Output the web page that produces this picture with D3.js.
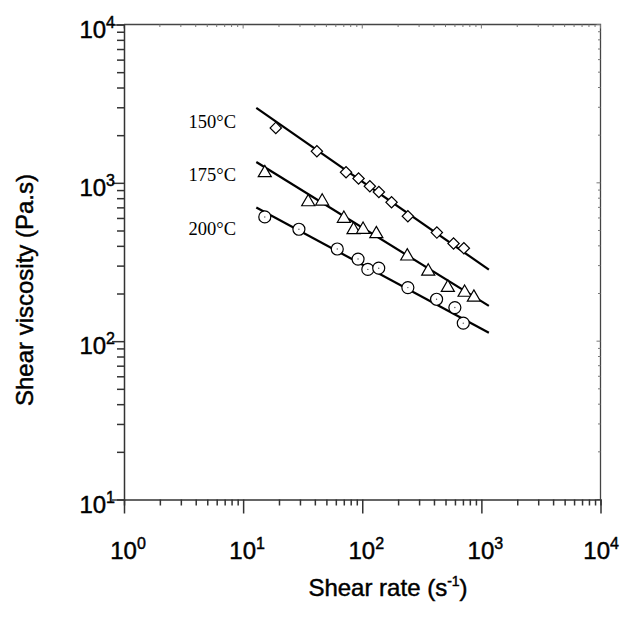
<!DOCTYPE html>
<html>
<head>
<meta charset="utf-8">
<script src="https://cdn.jsdelivr.net/npm/d3@7"></script>
<style>
  body { margin: 0; background: #fff; }
  svg { display: block; }
  .sans { font-family: 'Liberation Sans', Arial, sans-serif; stroke: #000; stroke-width: 0.45px; }
</style>
</head>
<body>
<div class="chart"></div>
<script>
// values
const temps = ['150°C', '175°C', '200°C']

const rate150 = [18.8, 41.6, 73.1, 93.1, 115.8, 137.9, 176.2, 241.5, 423, 584, 713]
const visc150 = [2222, 1583, 1167, 1065, 952, 876, 754, 615, 485, 414, 386]

const rate175 = [15.2, 35.2, 46.1, 70.1, 84.5, 101.6, 131.3, 238.7, 358, 523, 723, 865]
const visc175 = [1155, 757, 765, 595, 505, 507, 476, 344, 276, 218, 203, 189]

const rate200 = [15.2, 29.4, 61.7, 92.2, 111.4, 137.5, 241.5, 420.7, 599, 705]
const visc200 = [609, 509, 382, 330, 284, 289, 218, 184, 163, 130]

// power-law fit lines (end points)
const fitRate = [12.9, 1156]
const fit150 = [2972, 283]
const fit175 = [1355, 167]
const fit200 = [698, 113]

const xMajor = [1, 10, 100, 1000, 10000]
const yMajor = [10, 100, 1000, 10000]

const W = 621, H = 617
const svg = d3.select('.chart')
    .append('svg')
        .attr('width', W)
        .attr('height', H)
        .attr('viewBox', `0 0 ${W} ${H}`)

const x = d3.scaleLog().domain([1, 1e4]).range([124, 600.5])
const y = d3.scaleLog().domain([10, 1e4]).range([499.5, 24.5])

const minors = (majors) => {
    const out = []
    majors.slice(0, -1).forEach(m => d3.range(2, 10).forEach(k => out.push(m * k)))
    return out
}
const xTicks = xMajor.concat(minors(xMajor))
const yTicks = yMajor.concat(minors(yMajor))
const isMajor = (v) => Math.abs(Math.log10(v) - Math.round(Math.log10(v))) < 1e-9

//frame: top and right border
svg.append('path')
    .attr('d', `M${x.range()[0]},${y.range()[1]}H${x.range()[1]}V${y.range()[0]}`)
    .style('fill', 'none')
    .style('stroke', '#444')
    .style('stroke-width', 1.3)

//small inner ticks on top and right border
svg.append('g').selectAll('line')
    .data(xTicks).enter().append('line')
        .attr('x1', d => x(d)).attr('x2', d => x(d))
        .attr('y1', y.range()[1]).attr('y2', d => y.range()[1] + (isMajor(d) ? 4 : 2.5))
        .style('stroke', '#777').style('stroke-width', 1)
svg.append('g').selectAll('line')
    .data(yTicks).enter().append('line')
        .attr('y1', d => y(d)).attr('y2', d => y(d))
        .attr('x1', x.range()[1]).attr('x2', d => x.range()[1] - (isMajor(d) ? 4 : 2.5))
        .style('stroke', '#777').style('stroke-width', 1)

//bottom axis
const gx = svg.append('g')
    .attr('transform', `translate(0, ${y.range()[0]})`)
    .call(d3.axisBottom(x).tickValues(xTicks).tickSizeOuter(0).tickSize(6).tickFormat(''))
gx.selectAll('.tick line')
    .attr('y2', d => isMajor(d) ? 14 : 6)
gx.selectAll('line, path')
    .style('stroke', '#333')
    .style('stroke-width', 1.5)

//left axis
const gy = svg.append('g')
    .attr('transform', `translate(${x.range()[0]}, 0)`)
    .call(d3.axisLeft(y).tickValues(yTicks).tickSizeOuter(0).tickSize(7).tickFormat(''))
gy.selectAll('.tick line')
    .attr('x2', d => isMajor(d) ? -12 : -7)
gy.selectAll('line, path')
    .style('stroke', '#333')
    .style('stroke-width', 1.5)

//power-of-ten labels
const powLabel = (sel, exp) => {
    sel.append('tspan').text('10')
    sel.append('tspan')
        .attr('dy', -10)
        .style('font-size', '16px')
        .text(exp)
}
const xLabels = svg.append('g').selectAll('text')
    .data(xMajor).enter().append('text')
        .attr('class', 'sans')
        .attr('x', d => x(d) + 4)
        .attr('y', 559)
        .attr('text-anchor', 'middle')
        .style('font-size', '24px')
        .each(function(d) { powLabel(d3.select(this), Math.round(Math.log10(d))) })
// keep the last label inside the page
xLabels.each(function() {
    const b = this.getBBox()
    if (b.x + b.width > W - 2) {
        d3.select(this).attr('x', +d3.select(this).attr('x') - (b.x + b.width - (W - 2)))
    }
})

svg.append('g').selectAll('text')
    .data(yMajor).enter().append('text')
        .attr('class', 'sans')
        .attr('x', 115)
        .attr('y', d => y(d) + 13)
        .attr('text-anchor', 'end')
        .style('font-size', '24px')
        .each(function(d) { powLabel(d3.select(this), Math.round(Math.log10(d))) })

//axis titles
const xt = svg.append('text')
    .attr('class', 'sans')
    .attr('x', 388)
    .attr('y', 596)
    .attr('text-anchor', 'middle')
    .style('font-size', '24px')
xt.append('tspan').text('Shear rate (s')
xt.append('tspan').attr('dy', -10).style('font-size', '14px').text('-1')
xt.append('tspan').attr('dy', 10).text(')')

svg.append('text')
    .attr('class', 'sans')
    .attr('transform', 'translate(33, 290) rotate(-90)')
    .attr('text-anchor', 'middle')
    .style('font-size', '24px')
    .text('Shear viscosity (Pa.s)')

//fit lines
const series = [
    { rate: rate150, visc: visc150, fit: fit150, shape: 'diamond' },
    { rate: rate175, visc: visc175, fit: fit175, shape: 'triangle' },
    { rate: rate200, visc: visc200, fit: fit200, shape: 'circle' },
]
const line = d3.line().x(d => x(d[0])).y(d => y(d[1]))

const plot = svg.append('g')
series.forEach(s => {
    plot.append('path')
        .attr('d', line(d3.zip(fitRate, s.fit)))
        .style('fill', 'none')
        .style('stroke', '#000')
        .style('stroke-width', 2.2)
})

//markers
const diamond = d3.symbol().type(d3.symbolSquare).size(64)
const triangle = d3.symbol().type(d3.symbolTriangle).size(74)
series.forEach(s => {
    const pts = plot.append('g').selectAll('g')
        .data(d3.zip(s.rate, s.visc)).enter().append('g')
            .attr('transform', d => `translate(${x(d[0])}, ${y(d[1])})`)
    if (s.shape === 'diamond') {
        pts.append('path')
            .attr('d', diamond)
            .attr('transform', 'rotate(45)')
    } else if (s.shape === 'triangle') {
        pts.append('path')
            .attr('d', triangle)
    } else {
        pts.append('circle').attr('r', 6)
        pts.append('circle').attr('r', 0.7).style('fill', '#555')
    }
    pts.selectAll('path, circle:first-child')
        .style('fill', '#fff')
        .style('stroke', '#000')
        .style('stroke-width', 1.2)
})

//temperature labels
svg.append('g').selectAll('text')
    .data(temps).enter().append('text')
        .attr('x', 236)
        .attr('y', (d, i) => [128, 181, 235][i])
        .attr('text-anchor', 'end')
        .style('font-family', 'Liberation Serif, Times New Roman, serif')
        .style('font-size', '18.5px')
        .text(d => d)
</script>
</body>
</html>
